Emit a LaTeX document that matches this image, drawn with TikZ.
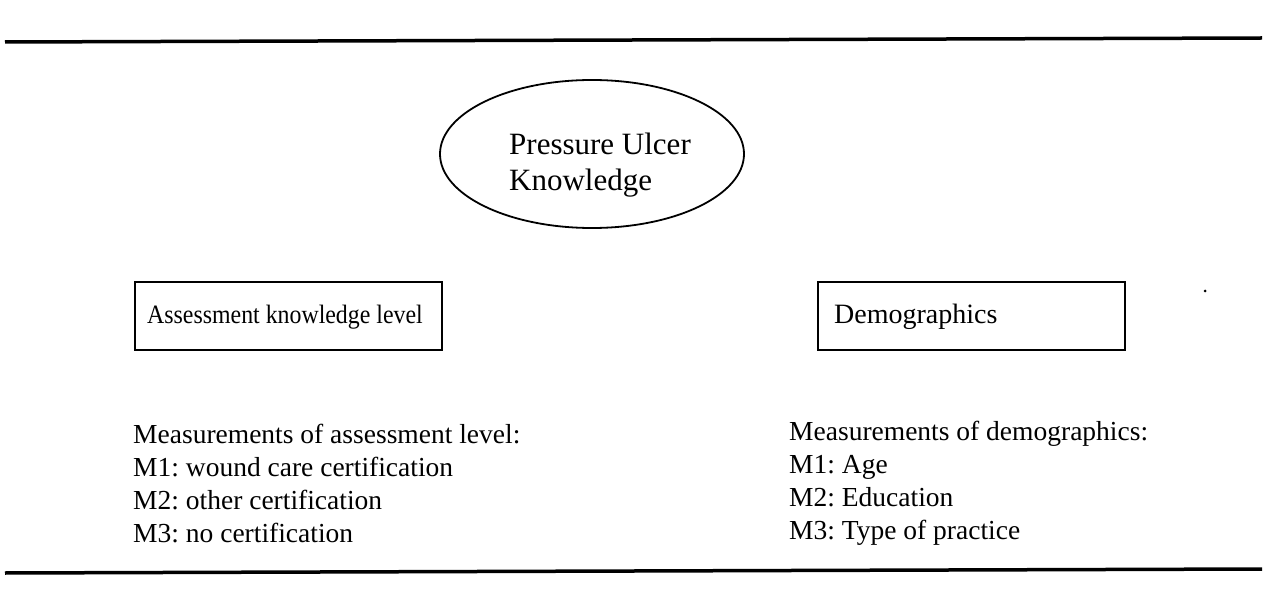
\documentclass[tikz,border=0pt]{standalone}
\usepackage{fontspec}
\usepackage{graphicx}
\setmainfont{Liberation Serif}
\usetikzlibrary{shapes.geometric}
\frenchspacing
\tikzset{
  rulestyle/.style={line width=3.5pt, line cap=butt},
  boxstyle/.style={draw, line width=1.8pt, minimum width=307pt, minimum height=68pt, anchor=north west, inner sep=0pt},
  ovalstyle/.style={draw, ellipse, line width=1.8pt, minimum width=304pt, minimum height=148pt, inner sep=0pt},
  txt/.style={anchor=base west, inner sep=0pt, font=\fontsize{27.5}{32}\selectfont},
  ovaltxt/.style={anchor=base west, inner sep=0pt, font=\fontsize{31}{36}\selectfont},
}
\begin{document}
\begin{tikzpicture}[x=1pt,y=-1pt]
\useasboundingbox (0,0) rectangle (1266,601);
\coordinate (t1) at (5,42);
\coordinate (t2) at (1262,38);
\coordinate (b1) at (5,573);
\coordinate (b2) at (1262,569);
\draw[rulestyle] (t1) -- (t2);
\draw[rulestyle] (b1) -- (b2);

\node[ovalstyle] (puk) at (592,154) {};
\node[ovaltxt] (pukA) at (509,155) {Pressure Ulcer};
\node[ovaltxt] (pukB) at (509,191) {Knowledge};

\node[boxstyle] (assess) at (134,281) {};
\node[txt, font=\fontsize{26.5}{30}\selectfont] (assessT) at (147,324) {\scalebox{0.9}[1]{Assessment knowledge level}};
\node[boxstyle] (demo) at (817,281) {};
\node[txt, font=\fontsize{28}{32}\selectfont] (demoT) at (834,324) {Demographics};
\fill (1205,291) circle (1.5pt);

\node[txt] (l0) at (133,443) {Measurements of assessment level:};
\node[txt] (l1) at (133,476) {M1: wound care certification};
\node[txt] (l2) at (133,509) {M2: other certification};
\node[txt] (l3) at (133,542) {M3: no certification};

\node[txt] (r0) at (789,440) {Measurements of demographics:};
\node[txt] (r1) at (789,473) {M1: Age};
\node[txt] (r2) at (789,506) {M2: Education};
\node[txt] (r3) at (789,539) {M3: Type of practice};
\end{tikzpicture}
\end{document}
